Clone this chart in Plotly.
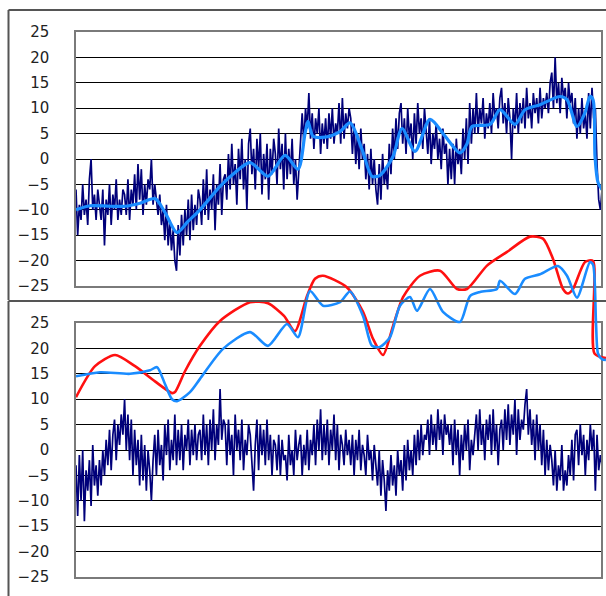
import numpy as np
import plotly.graph_objects as go

W, H = 606, 596

# ---------------- data ----------------
noise_t_end = 100.2   # noisy series span on the 0..100 time axis

top_noise = [
    -6, -15, -9, -12, -5, -11, -8, -13, -4, 0, -10, -7, -12, -6,
    -9, -12, -6, -17, -8, -11, -5, -13, -7, -10, -4, -12, -8, -11, -6,
    -7, -11, -4, -12, -6, -9, -3, -10, -1, -8, -2, -11, -5, -9, -4,
    -6, 0, -9, -5, -8, -11, -7, -13, -10, -16, -9, -17, -12, -18, -14,
    -20, -22, -13, -19, -11, -17, -10, -15, -8, -16, -7, -14, -9, -13, -6,
    -8, -13, -4, -11, -2, -12, -6, -10, -3, -14, -5, -9, -1, -11, -4,
    -3, -8, 1, -6, 3, -5, -1, -9, 2, -4, 4, -6, 0, -10, 3,
    6, -3, 2, -6, 4, -2, 5, -7, 1, -4, 3, -8, 2, -3, 4,
    1, -5, 6, -2, 3, -6, 5, -4, 2, -3, 4, -5, 0, -8, -2,
    2, 9, 3, 10, 6, 13, 4, 9, 2, 8, 5, 10, 1, 7, 3,
    8, 2, 9, 4, 10, 3, 7, 5, 11, 3, 12, 4, 9, 6, 10,
    8, 1, 7, -1, 5, -2, 6, 0, 3, -4, 1, -6, 2, -5, 0,
    -6, -9, -1, -8, 1, -5, -2, -6, 3, -3, 6, 0, 8, 2, 9,
    11, 3, 8, 1, 10, 4, 7, 0, 9, 3, 11, 5, 8, 2, 10,
    6, 1, 8, -1, 5, 2, 7, 0, 4, -2, 6, 1, 3, -5, 2,
    -4, 3, -5, 4, -1, 2, -3, 6, 0, 8, -1, 11, 3, 10, 5,
    13, 5, 10, 7, 12, 4, 9, 6, 11, 5, 13, 8, 10, 6, 12,
    14, 7, 11, 5, 12, 8, 0, 10, 6, 13, 5, 11, 7, 12, 6,
    14, 8, 11, 6, 13, 9, 12, 7, 14, 8, 12, 10, 13, 9, 15,
    17, 10, 20, 11, 15, 9, 16, 12, 14, 8, 15, 11, 13, 7, 12,
    4, 10, 5, 12, 6, 9, 4, 13, 6, 14, 8, 10, -1, -8, -10,
    -6,
]

bottom_noise = [
    -3, -13, -1, -10, 0, -14, -4, -8, -2, -11, 1, -7, -3, -9,
    -2, -7, 0, -5, 2, -3, 4, -4, 3, 6, -2, 5, 1, 7, 3,
    10, 0, 7, -2, 6, -5, 4, -3, 2, -7, 3, -6, 1, -8, 0,
    -4, -10, -2, 3, -5, 4, -3, 1, -6, 5, -1, 6, -4, 2, -2,
    7, -3, 4, -2, 5, -4, 3, 0, 6, -3, 4, -1, 5, -2, 3,
    4, -2, 7, -1, 5, -3, 6, 0, 8, -2, 5, 1, 12, 2, 6,
    5, -3, 6, -1, 3, -5, 7, 0, 4, -2, 6, -4, 2, -1, 5,
    3, -2, -8, 1, 6, -4, 5, -1, 4, -3, 6, -2, 3, -5, 2,
    1, -4, 3, -5, 2, -2, -1, -6, 3, -3, 0, -5, 4, -2, 1,
    3, -5, 1, -3, 4, -4, 2, -1, 5, -3, 6, 0, 8, -2, 5,
    -1, 6, -3, 4, 0, 7, -2, 5, -4, 3, 1, -3, 4, -1, 2,
    -3, 3, -5, 2, -2, 4, -4, 1, -1, -5, 3, -2, 0, -6, 1,
    -3, -7, 0, -9, -2, -6, -12, -4, -8, -1, -7, -3, -9, 0, -5,
    -2, -8, 1, -6, 2, -4, 0, -5, 3, -3, 4, -2, 5, -1, 3,
    2, 6, -1, 7, 1, 5, 0, 8, 2, 6, -1, 7, 3, 5, 1,
    5, -3, 6, -1, 4, -5, 3, -2, 5, 0, 6, -4, 2, -1, 4,
    7, 0, 8, 1, 5, -2, 6, 2, 7, -1, 8, 0, 5, -3, 4,
    6, 0, 8, 2, 9, 1, 7, 3, 10, -1, 8, 2, 6, 4, 9,
    12, 3, 8, 1, 6, -2, 7, 0, 5, -3, 4, -5, 2, -4, 1,
    -2, -7, 0, -8, -3, -6, 1, -8, -4, -7, -1, -5, 2, -6, 3,
    4, -3, 5, -1, 3, -5, 2, -2, 5, 0, 4, -8, 3, -4, -1,
    -3,
]

top_smooth_t = [0, 2.67, 6.48, 9.33, 12.19, 15.05, 16.95, 19.24, 21.33, 23.62,
                27.43, 29.9, 33.14, 36.57, 39.81, 42.29, 43.62, 44.19, 45.14, 47.43,
                50.29, 52.19, 54.48, 56.38, 57.9, 60.38, 62.1, 64.57, 67.43, 70.29,
                73.14, 74.48, 75.43, 78.86, 80.76, 83.62, 85.52, 88.38, 92.19, 93.52,
                95.43, 96.95, 97.9, 98.48, 98.86, 99.43, 100.19]
top_smooth_v = [-10, -9.2, -9.3, -9.3, -8.7, -7.8, -10.5, -14.5, -12.3, -10,
                -5.4, -3, -0.7, -3.4, 0.7, -2, 5, 7.4, 4.5, 4.3,
                5.4, 7.1, 1.9, -3.4, -3.2, 0.5, 6.0, 1.5, 7.8, 4.5,
                1.2, 3, 6.4, 6.8, 9.7, 6.8, 9.7, 10.7, 12.3, 11.7,
                6.4, 9.1, 12.3, 11.7, 0.5, -4.6, -6]

red_t = [0, 3.62, 7.43, 11.24, 15.05, 18.29, 18.86, 20.76, 23.62, 27.43,
         33.14, 36.57, 39.62, 41.71, 44, 45.52, 47.05, 51.62, 54.67, 56.57,
         58.48, 60.38, 62.29, 65.52, 69.33, 72.57, 74.48, 78.29, 82.1, 86.48,
         88.95, 90.86, 92.76, 93.71, 94.67, 96.95, 98.48, 98.76, 100.95]
red_v = [10.4, 16.5, 18.7, 16.5, 13.5, 11.2, 11.4, 15.5, 20.5, 25.4,
         29.1, 28.9, 26.4, 23.4, 30.3, 33.7, 34.3, 32, 27.2, 21.9,
         18.7, 24.4, 30.1, 34.3, 35.3, 31.7, 31.7, 36.3, 39, 42,
         41.6, 37.6, 31.7, 30.8, 31.7, 37, 37.2, 19.0, 18.1]

blue_t = [0, 4.57, 10.29, 14.1, 15.43, 16.95, 18.29, 19.24, 21.71, 23.62,
          28, 33.14, 36.57, 40.19, 42.29, 44.57, 47.05, 50.29, 52.19, 54.67,
          56.38, 57.9, 59.81, 61.71, 63.62, 64.95, 67.43, 69.9, 73.14, 75.05,
          76.95, 80.19, 80.76, 83.62, 85.52, 88.38, 91.81, 93.52, 95.43, 97.9,
          98.48, 99.05, 99.43, 100.19, 100.95]
blue_v = [14.5, 15.3, 15, 15.7, 16.3, 13, 10, 9.6, 11.4, 14,
          19.9, 23.2, 20.5, 24.8, 22.2, 31.3, 28.4, 29.1, 31.2, 26.4,
          20.5, 20.3, 22.2, 28.4, 30.1, 27.4, 31.7, 27.2, 25.2, 30.3,
          31.1, 31.7, 33.3, 30.7, 33.7, 34.6, 36.2, 34.3, 30, 37,
          36.5, 25, 19, 17.9, 17.7]

y_ticks = [25, 20, 15, 10, 5, 0, -5, -10, -15, -20, -25]

# ---------------- layout geometry (in page pixels) ----------------
OFF = 0                    # figure is pinned to the page's top-left corner (see post_script)
PL, PR = 76, 601           # plot area left/right
TOP_T, TOP_B = 32, 286     # top panel plot area
BOT_T, BOT_B = 323, 577    # bottom panel plot area
X_END = 100.0


def px(x):
    return (x - OFF) / W


def py(y):
    return 1 - (y - OFF) / H


navy = "#00007a"
lblue = "#1a8cff"
red = "#ff1010"

fig = go.Figure()

t_top = np.linspace(0, noise_t_end, len(top_noise))
t_bot = np.linspace(0, noise_t_end, len(bottom_noise))

fig.add_trace(go.Scatter(x=t_top, y=top_noise, mode="lines",
                         line=dict(color=navy, width=1.7), xaxis="x", yaxis="y"))
fig.add_trace(go.Scatter(x=top_smooth_t, y=top_smooth_v, mode="lines",
                         line=dict(color=lblue, width=3.2, shape="spline", smoothing=0.8),
                         xaxis="x", yaxis="y"))
fig.add_trace(go.Scatter(x=t_bot, y=bottom_noise, mode="lines",
                         line=dict(color=navy, width=1.7), xaxis="x2", yaxis="y2"))

# overlay axis sharing the bottom panel's scale but spanning the whole figure
ppu = (BOT_B - BOT_T) / 50.0
y3_lo = -25 - (OFF + H - BOT_B) / ppu
y3_hi = 25 + (BOT_T - OFF) / ppu
ppx = (PR - PL) / X_END
x3_hi = (OFF + W - PL) / ppx

fig.add_trace(go.Scatter(x=red_t, y=red_v, mode="lines",
                         line=dict(color=red, width=2.6, shape="spline", smoothing=0.7),
                         xaxis="x3", yaxis="y3"))
fig.add_trace(go.Scatter(x=blue_t, y=blue_v, mode="lines",
                         line=dict(color=lblue, width=2.6, shape="spline", smoothing=0.7),
                         xaxis="x3", yaxis="y3"))

yaxis_common = dict(range=[-25, 25], tickvals=y_ticks, showgrid=True,
                    gridcolor="#000000", gridwidth=1, zeroline=False,
                    showline=True, mirror=True, linecolor="#7a7a7a", linewidth=1.5,
                    ticks="", ticklabelstandoff=22, automargin=False,
                    tickfont=dict(family="DejaVu Sans", size=15, color="#222222"))
xaxis_common = dict(range=[0, X_END], showgrid=False, zeroline=False,
                    showticklabels=False, ticks="", showline=True, mirror=True,
                    linecolor="#7a7a7a", linewidth=1.5, automargin=False)

frame = dict(color="#555555", width=2)
shapes = [
    dict(type="line", xref="paper", yref="paper", x0=px(8.5), x1=px(8.5), y0=py(10), y1=py(300),
         line=frame),
    dict(type="line", xref="paper", yref="paper", x0=px(8.5), x1=1.0, y0=py(10), y1=py(10),
         line=frame),
    dict(type="line", xref="paper", yref="paper", x0=px(8.5), x1=1.0, y0=py(301), y1=py(301),
         line=frame),
    dict(type="line", xref="paper", yref="paper", x0=px(8.5), x1=px(8.5), y0=py(301), y1=0,
         line=frame),
]

fig.update_layout(
    width=W, height=H,
    margin=dict(l=0, r=0, t=0, b=0, autoexpand=False),
    paper_bgcolor="white", plot_bgcolor="rgba(0,0,0,0)",
    showlegend=False,
    xaxis=dict(domain=[px(PL), px(PR)], anchor="y", **xaxis_common),
    yaxis=dict(domain=[py(TOP_B), py(TOP_T)], anchor="x", **yaxis_common),
    xaxis2=dict(domain=[px(PL), px(PR)], anchor="y2", **xaxis_common),
    yaxis2=dict(domain=[py(BOT_B), py(BOT_T)], anchor="x2", **yaxis_common),
    xaxis3=dict(domain=[px(PL), 1.0], anchor="y3", range=[0, x3_hi], visible=False,
                automargin=False),
    yaxis3=dict(domain=[0, 1], anchor="x3", range=[y3_lo, y3_hi], visible=False,
                automargin=False),
    shapes=shapes,
)

fig.write_html(
    "out.html",
    config={"responsive": False, "displayModeBar": False},
    post_script=(
        "document.documentElement.style.margin='0';"
        "document.documentElement.style.overflow='hidden';"
        "document.body.style.margin='0';document.body.style.padding='0';"
        "document.body.style.overflow='hidden';"
        "var gd=document.getElementById('{plot_id}');"
        "gd.style.position='fixed';gd.style.top='0px';gd.style.left='0px';"
    ),
)
